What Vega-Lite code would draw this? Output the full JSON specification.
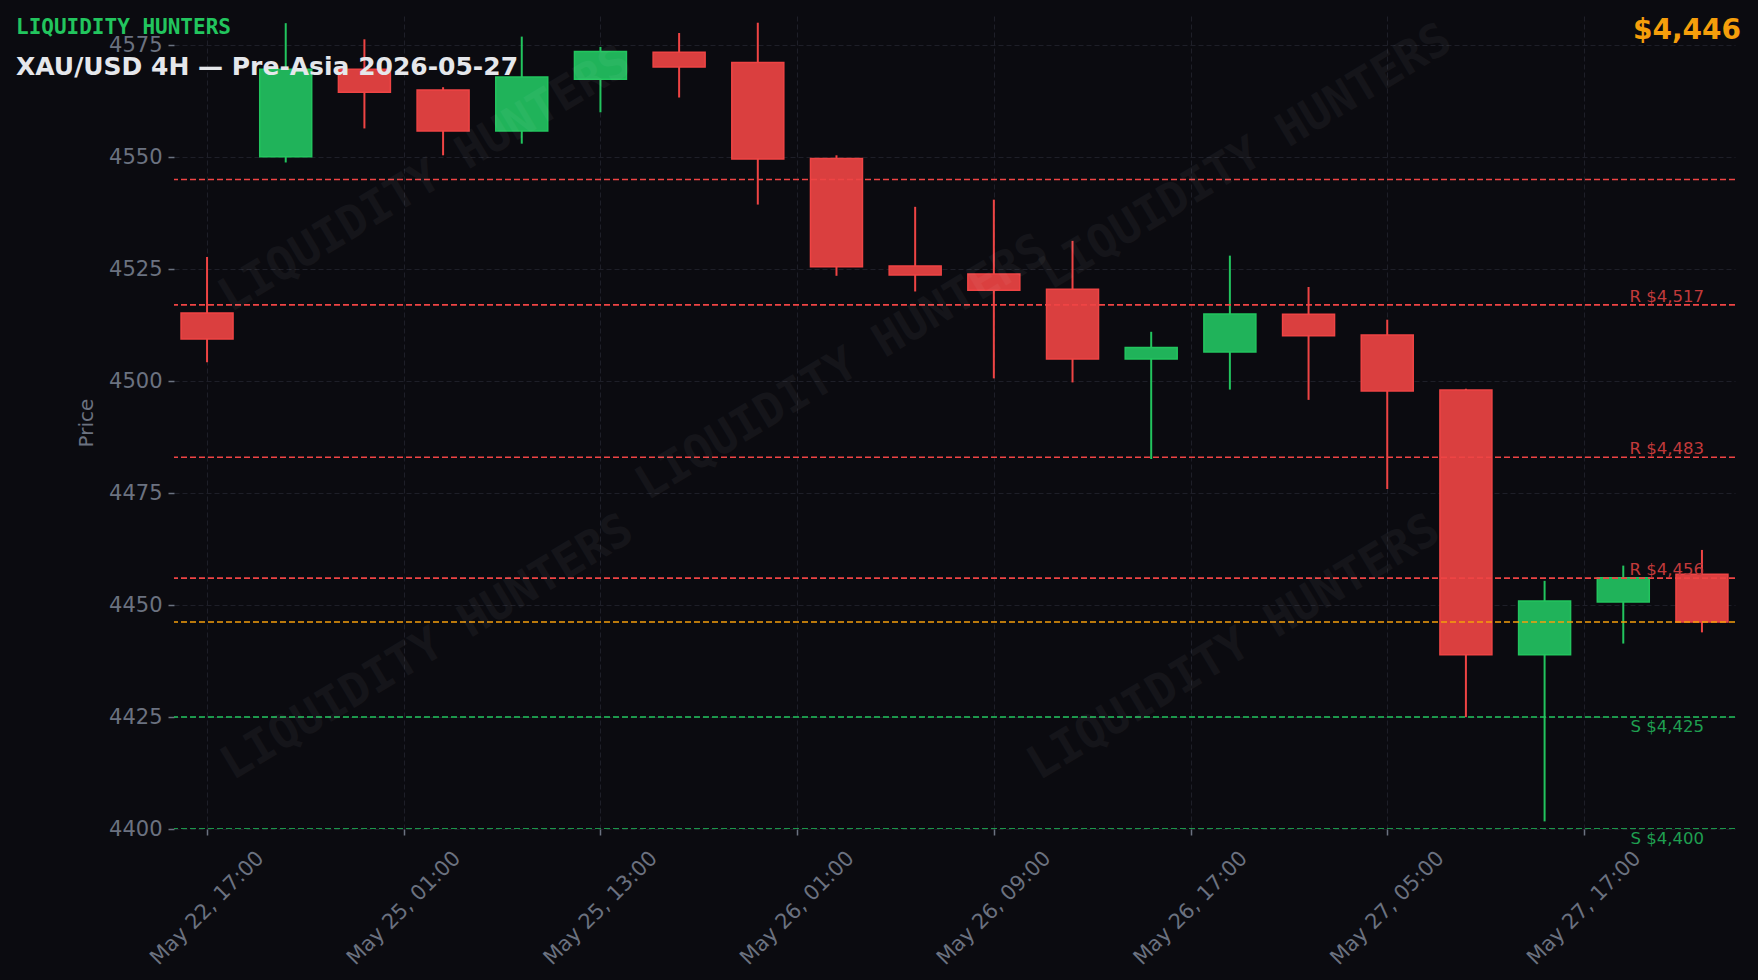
{
  "$schema": "https://vega.github.io/schema/vega-lite/v6.json",
  "width": 1561,
  "height": 813,
  "autosize": {"type": "none"},
  "padding": {"left": 174, "top": 16, "right": 23, "bottom": 151},
  "background": "#0b0b10",
  "config": {
    "view": {"stroke": null},
    "font": "DejaVu Sans",
    "axis": {
      "domain": false,
      "grid": true,
      "gridColor": "#1e1f28",
      "gridDash": [5, 3],
      "gridWidth": 1,
      "tickColor": "#6b7280",
      "tickSize": 6,
      "tickWidth": 1.5,
      "labelColor": "#6b7280",
      "labelFont": "DejaVu Sans",
      "labelFontSize": 21,
      "titleColor": "#6b7280",
      "titleFont": "DejaVu Sans",
      "titleFontSize": 20,
      "titleFontWeight": "normal"
    }
  },
  "title": {
    "text": "LIQUIDITY HUNTERS",
    "subtitle": "XAU/USD 4H — Pre-Asia 2026-05-27",
    "anchor": "start",
    "frame": "group",
    "orient": "top",
    "font": "DejaVu Sans Mono",
    "fontSize": 21,
    "fontWeight": "bold",
    "color": "#22c55e",
    "subtitleFont": "DejaVu Sans",
    "subtitleFontSize": 25,
    "subtitleFontWeight": "bold",
    "subtitleColor": "#e5e7eb",
    "subtitlePadding": 17,
    "dx": -158,
    "offset": -64
  },
  "datasets": {
    "candles": [
      {"i": 0, "open": 4515.2, "high": 4527.7, "low": 4504.2, "close": 4509.4},
      {"i": 1, "open": 4550.1, "high": 4579.9, "low": 4548.8, "close": 4569.6},
      {"i": 2, "open": 4569.6, "high": 4576.3, "low": 4556.4, "close": 4564.5},
      {"i": 3, "open": 4565.0, "high": 4565.6, "low": 4550.4, "close": 4555.8},
      {"i": 4, "open": 4555.8, "high": 4576.9, "low": 4553.0, "close": 4567.9},
      {"i": 5, "open": 4567.4, "high": 4574.6, "low": 4560.0, "close": 4573.6},
      {"i": 6, "open": 4573.4, "high": 4577.7, "low": 4563.3, "close": 4570.1},
      {"i": 7, "open": 4571.1, "high": 4580.0, "low": 4539.4, "close": 4549.6},
      {"i": 8, "open": 4549.7, "high": 4550.4, "low": 4523.5, "close": 4525.5},
      {"i": 9, "open": 4525.7, "high": 4538.9, "low": 4520.0, "close": 4523.7},
      {"i": 10, "open": 4523.9, "high": 4540.5, "low": 4500.6, "close": 4520.3},
      {"i": 11, "open": 4520.5, "high": 4531.3, "low": 4499.7, "close": 4504.9},
      {"i": 12, "open": 4504.9, "high": 4511.0, "low": 4482.6, "close": 4507.5},
      {"i": 13, "open": 4506.5, "high": 4528.0, "low": 4498.1, "close": 4515.0},
      {"i": 14, "open": 4514.9, "high": 4521.0, "low": 4495.8, "close": 4510.1},
      {"i": 15, "open": 4510.3, "high": 4513.7, "low": 4475.9, "close": 4497.8},
      {"i": 16, "open": 4498.0, "high": 4498.3, "low": 4425.0, "close": 4438.9},
      {"i": 17, "open": 4438.9, "high": 4455.4, "low": 4401.7, "close": 4450.9},
      {"i": 18, "open": 4450.7, "high": 4458.8, "low": 4441.4, "close": 4456.1},
      {"i": 19, "open": 4456.9, "high": 4462.3, "low": 4443.9, "close": 4446.2}
    ],
    "levels": [
      {"price": 4545, "kind": "R", "label": ""},
      {"price": 4517, "kind": "R", "label": "R $4,517"},
      {"price": 4483, "kind": "R", "label": "R $4,483"},
      {"price": 4456, "kind": "R", "label": "R $4,456"},
      {"price": 4446.2, "kind": "P", "label": ""},
      {"price": 4425, "kind": "S", "label": "S $4,425"},
      {"price": 4400, "kind": "S", "label": "S $4,400"}
    ],
    "watermarks": [
      {"x": 2.77, "y": 4545, "text": "LIQUIDITY HUNTERS"},
      {"x": 8.07, "y": 4503, "text": "LIQUIDITY HUNTERS"},
      {"x": 13.2, "y": 4550, "text": "LIQUIDITY HUNTERS"},
      {"x": 2.8, "y": 4440.5, "text": "LIQUIDITY HUNTERS"},
      {"x": 13.05, "y": 4440.5, "text": "LIQUIDITY HUNTERS"}
    ],
    "current": [{"label": "$4,446"}]
  },
  "layer": [
    {
      "data": {"name": "candles"},
      "mark": {"type": "rule", "strokeWidth": 2},
      "encoding": {
        "x": {
          "field": "i",
          "type": "quantitative",
          "scale": {"domain": [-0.42, 19.42], "nice": false, "zero": false, "padding": 0},
          "axis": {
            "title": null,
            "values": [0, 2.5, 5, 7.5, 10, 12.5, 15, 17.5],
            "labelExpr": "['May 22, 17:00','May 25, 01:00','May 25, 13:00','May 26, 01:00','May 26, 09:00','May 26, 17:00','May 27, 05:00','May 27, 17:00'][round(datum.value / 2.5)]",
            "labelAngle": -45,
            "labelAlign": "center",
            "labelBaseline": "middle",
            "labelPadding": 73,
            "labelOverlap": false,
            "labelFlush": false
          }
        },
        "y": {
          "field": "low",
          "type": "quantitative",
          "scale": {"domain": [4400, 4581.5], "nice": false, "zero": false, "padding": 0},
          "axis": {
            "title": "Price",
            "format": "d",
            "values": [4400, 4425, 4450, 4475, 4500, 4525, 4550, 4575],
            "labelPadding": 6,
            "titlePadding": 12
          }
        },
        "y2": {"field": "high"},
        "color": {
          "condition": {"test": "datum.close >= datum.open", "value": "#22c55e"},
          "value": "#ef4444"
        }
      }
    },
    {
      "data": {"name": "candles"},
      "mark": {"type": "bar", "size": 52, "strokeWidth": 1.5},
      "encoding": {
        "x": {"field": "i", "type": "quantitative"},
        "y": {"field": "open", "type": "quantitative"},
        "y2": {"field": "close"},
        "fill": {
          "condition": {"test": "datum.close >= datum.open", "value": "#20b35a"},
          "value": "#da3f3f"
        },
        "stroke": {
          "condition": {"test": "datum.close >= datum.open", "value": "#22c55e"},
          "value": "#ef4444"
        }
      }
    },
    {
      "data": {"name": "levels"},
      "mark": {"type": "rule", "strokeDash": [6, 3], "strokeWidth": 1.6, "clip": true},
      "encoding": {
        "y": {"field": "price", "type": "quantitative"},
        "color": {
          "field": "kind",
          "type": "nominal",
          "scale": {"domain": ["R", "S", "P"], "range": ["#ef4444", "#22c55e", "#f59e0b"]},
          "legend": null
        }
      }
    },
    {
      "data": {"name": "levels"},
      "transform": [{"filter": "datum.kind == 'R' && datum.label != ''"}],
      "mark": {"type": "text", "align": "right", "baseline": "alphabetic", "dx": 2, "dy": -3, "fontSize": 16.5, "font": "DejaVu Sans", "color": "#c23a3b"},
      "encoding": {
        "x": {"datum": 19, "type": "quantitative"},
        "y": {"field": "price", "type": "quantitative"},
        "text": {"field": "label"}
      }
    },
    {
      "data": {"name": "levels"},
      "transform": [{"filter": "datum.kind == 'S'"}],
      "mark": {"type": "text", "align": "right", "baseline": "top", "dx": 2, "dy": 2, "fontSize": 16.5, "font": "DejaVu Sans", "color": "#1f9f50"},
      "encoding": {
        "x": {"datum": 19, "type": "quantitative"},
        "y": {"field": "price", "type": "quantitative"},
        "text": {"field": "label"}
      }
    },
    {
      "data": {"name": "watermarks"},
      "mark": {"type": "text", "align": "center", "baseline": "middle", "angle": -31, "font": "DejaVu Sans Mono", "fontWeight": "bold", "fontSize": 46, "color": "#ffffff", "opacity": 0.04},
      "encoding": {
        "x": {"field": "x", "type": "quantitative"},
        "y": {"field": "y", "type": "quantitative"},
        "text": {"field": "text"}
      }
    },
    {
      "data": {"name": "current"},
      "mark": {"type": "text", "align": "right", "baseline": "top", "dx": 6, "dy": 1, "fontSize": 28, "fontWeight": "bold", "font": "DejaVu Sans", "color": "#f59e0b"},
      "encoding": {
        "x": {"datum": 19.42, "type": "quantitative"},
        "y": {"value": 0},
        "text": {"field": "label"}
      }
    }
  ]
}
